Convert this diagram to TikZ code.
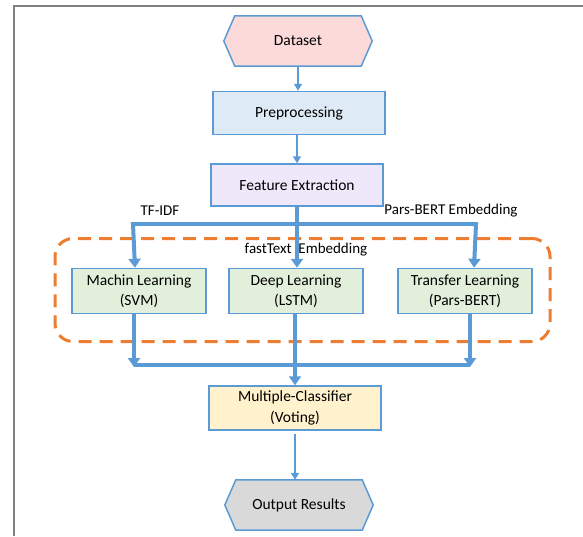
\documentclass[tikz,border=0pt]{standalone}
\usepackage{fontspec}
\setmainfont{Carlito}
\usetikzlibrary{arrows.meta,calc}
\pgfdeclarelayer{background}
\pgfsetlayers{background,main}
\definecolor{lblue}{HTML}{5B9BD5}
\definecolor{dorange}{HTML}{ED7D31}
\definecolor{fpink}{HTML}{FDDADA}
\definecolor{fblue}{HTML}{DEEBF7}
\definecolor{fviolet}{HTML}{EFE8FB}
\definecolor{fgreen}{HTML}{E2EFDA}
\definecolor{fyellow}{HTML}{FFF2CC}
\definecolor{fgray}{HTML}{D9D9D9}
\begin{document}
\begin{tikzpicture}[x=1pt,y=-1pt,
  every node/.style={font=\fontsize{15.5}{19.5}\selectfont, text=black},
  box/.style={draw=lblue, line width=1.5pt, inner sep=0pt},
  hexbox/.style={inner sep=0pt, minimum width=148pt, minimum height=50pt},
  hexline/.style={draw=lblue, line width=1.5pt},
  thinarrow/.style={draw=lblue, line width=1.5pt, -{Triangle[width=8pt,length=7pt]}},
  thickline/.style={draw=lblue, line width=4pt},
  thickarrow/.style={thickline, -{Triangle[width=12pt,length=9pt]}},
  lbl/.style={font=\fontsize{15}{17}\selectfont}]
\useasboundingbox (0,0) rectangle (583,536);
\draw[color=black!50, line width=2pt] (14,536) -- (14,6) -- (583,6);

% nodes
\node[hexbox] (ds) at (298,41) {Dataset};
\node[box, fill=fblue, minimum width=172pt, minimum height=43pt] (pp) at (299,113) {Preprocessing};
\node[box, fill=fviolet, minimum width=172pt, minimum height=42pt] (fe) at (297,185) {Feature Extraction};
\node[box, fill=fgreen, minimum width=134pt, minimum height=45pt, align=center] (ml) at (139,291) {Machin Learning\\(SVM)};
\node[box, fill=fgreen, minimum width=134pt, minimum height=45pt, align=center] (dl) at (296,291) {Deep Learning\\(LSTM)};
\node[box, fill=fgreen, minimum width=134pt, minimum height=45pt, align=center] (tl) at (465,291) {Transfer Learning\\(Pars-BERT)};
\node[box, fill=fyellow, minimum width=172pt, minimum height=44pt, align=center, font=\fontsize{15.5}{21}\selectfont] (mc) at (295,408) {Multiple-Classifier\\(Voting)};
\node[hexbox] (out) at (299,505) {Output Results};

\begin{pgfonlayer}{background}
\draw[hexline, fill=fpink] (ds.west) -- ($(ds.north west)+(11,0)$) -- ($(ds.north east)+(-11,0)$) -- (ds.east) -- ($(ds.south east)+(-11,0)$) -- ($(ds.south west)+(11,0)$) -- cycle;
\draw[hexline, fill=fgray] (out.west) -- ($(out.north west)+(11,0)$) -- ($(out.north east)+(-11,0)$) -- (out.east) -- ($(out.south east)+(-11,0)$) -- ($(out.south west)+(11,0)$) -- cycle;
\end{pgfonlayer}

% dashed group
\node[draw=dorange, line width=3pt, dash pattern=on 13pt off 8pt, rounded corners=18pt, minimum width=495pt, minimum height=103pt] (grp) at (302.5,290) {};

% thin arrows
\draw[thinarrow] (ds.south) -- (ds.south |- pp.north);
\draw[thinarrow] (pp.south -| fe.north) -- (fe.north);
\draw[thinarrow] (mc.south) ++(0,3) -- (out.north -| mc.south);

% top bus
\coordinate (tb) at (297,224);
\coordinate (tbl) at (135,224);
\coordinate (tbr) at (474,224);
\draw[thickline] (fe.south) -- (tb);
\draw[thickline] (tbl) -- (tbr);
\draw[thickarrow] ([xshift=2pt]tbl) -- ([xshift=-2pt]tbl) -- (tbl |- ml.north);
\draw[thickarrow] (tb) -- (tb |- dl.north);
\draw[thickarrow] ([xshift=-2pt]tbr) -- ([xshift=2pt]tbr) -- (tbr |- tl.north);

% bottom bus
\coordinate (bbl) at (134,367);
\coordinate (bbc) at (295,367);
\coordinate (bbr) at (470,367);
\draw[thickline] ([yshift=2pt]bbl) -- ([yshift=2pt]bbr);
\draw[thickarrow] (bbl |- ml.south) -- (bbl);
\draw[thickarrow] (bbr |- tl.south) -- (bbr);
\draw[thickline] (bbc |- dl.south) -- (bbc);
\draw[thickarrow] (bbc) -- (mc.north);

% labels
\node[lbl] (l1) at (160,211) {TF-IDF};
\node[lbl] (l2) at (451,211) {Pars-BERT Embedding};
\node[lbl] (l3) at (306,250) {fastText~ Embedding};
\end{tikzpicture}
\end{document}
